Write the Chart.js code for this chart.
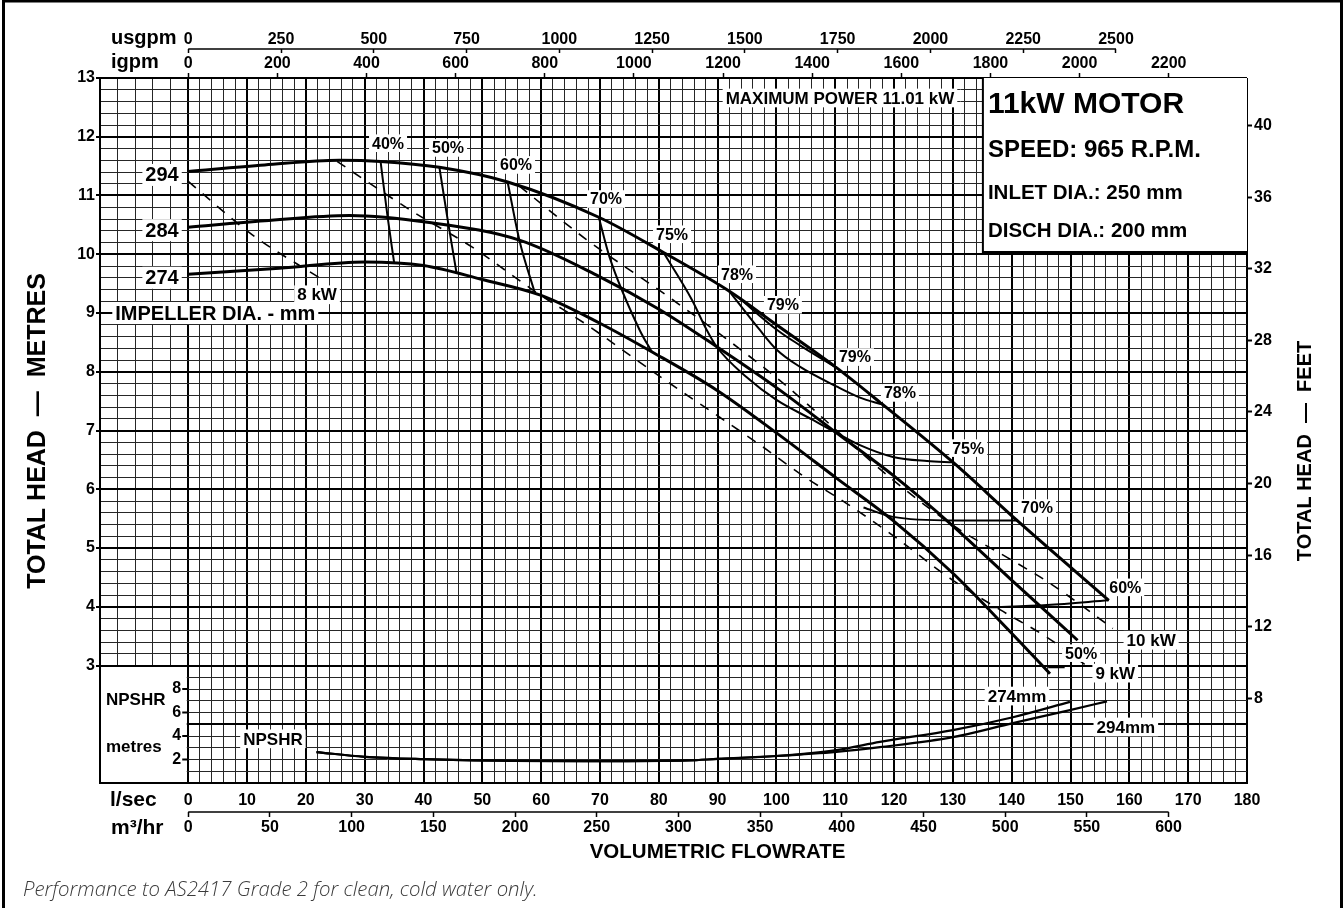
<!DOCTYPE html>
<html>
<head>
<meta charset="utf-8">
<script src="https://cdn.jsdelivr.net/npm/chart.js@4.4.1/dist/chart.umd.min.js"></script>
<style>
  html, body { margin: 0; padding: 0; background: #fff; }
  #wrap { position: relative; width: 1343px; height: 908px; }
</style>
</head>
<body>
<div id="wrap"><canvas id="pumpChart"></canvas></div>
<script>
// flow in l/sec, head in metres
const q294 = [0, 13, 25.7, 32.7, 42.7, 54.3, 69.8, 80.8, 92.0, 100.0, 110.2, 118.1, 130.0, 140.9, 156.5];
const h294 = [11.41, 11.52, 11.60, 11.58, 11.48, 11.23, 10.63, 10.03, 9.37, 8.80, 8.07, 7.44, 6.46, 5.47, 4.11];
const q284 = [0, 13, 27.4, 41, 56.3, 69.9, 80.1, 89.8, 100, 110.2, 119.8, 129.5, 139.7, 151.2];
const h284 = [10.46, 10.57, 10.66, 10.54, 10.24, 9.62, 9.06, 8.43, 7.73, 6.96, 6.24, 5.42, 4.48, 3.43];
const q274 = [0, 15.5, 30, 40, 50, 60, 69.9, 78.8, 89.8, 100, 110.2, 119.8, 130, 139.7, 146.5];
const h274 = [9.66, 9.76, 9.87, 9.81, 9.57, 9.30, 8.83, 8.34, 7.69, 6.96, 6.19, 5.47, 4.57, 3.58, 2.86];

// efficiency contours
const qE40 = [32.7, 33.9, 35.0];            const hE40 = [11.58, 10.63, 9.86];
const qE50 = [42.7, 44.2, 45.6];            const hE50 = [11.48, 10.53, 9.69];
const qE50b = [146.2, 149.0];               const hE50b = [2.97, 2.97];
const qE60 = [54.3, 56.3, 58.9];            const hE60 = [11.23, 10.24, 9.35];
const qE60b = [136.0, 146.0, 156.5];        const hE60b = [3.99, 4.03, 4.11];
const qE70 = [69.8, 71.6, 76.7, 78.8];      const hE70 = [10.63, 9.96, 8.72, 8.34];
const qE70b = [114.8, 119.8, 130.0, 140.9]; const hE70b = [5.69, 5.53, 5.47, 5.47];
const qE75 = [80.8, 85.6, 88.1, 89.8, 94.9, 100, 106.2, 110.2, 114.2, 119.8, 125.6, 130];
const hE75 = [10.03, 9.23, 8.72, 8.43, 7.91, 7.52, 7.18, 6.96, 6.75, 6.55, 6.48, 6.46];
const qE78 = [92.0, 97.1, 100, 103.9, 110.2, 114.2, 118.1];
const hE78 = [9.37, 8.72, 8.38, 8.09, 7.75, 7.56, 7.44];
const qE79 = [93.7, 100, 104, 110.2];       const hE79 = [9.25, 8.72, 8.45, 8.07];

// power lines (dashed)
const qP8 = [0, 10.9, 22.3];                const hP8 = [11.24, 10.33, 9.60];
const qP9 = [25.3, 38.1, 48.3, 59.2, 68.2, 76.2, 83.5, 90.3, 97.7, 104.8, 111.9, 119.3, 130, 138, 146, 152.4];
const hP9 = [11.58, 10.73, 10.12, 9.35, 8.77, 8.20, 7.69, 7.23, 6.72, 6.21, 5.76, 5.25, 4.45, 3.95, 3.48, 3.02];
const qP10 = [56.3, 67.7, 82.3, 100, 119.8, 130.7, 139.2, 146.5, 157.2];
const hP10 = [11.16, 10.25, 9.23, 7.9, 6.16, 5.34, 4.84, 4.40, 3.63];

// NPSHR (metres) per impeller
const qN274 = [21.8, 30, 40, 55, 70, 85, 90, 100, 110.2, 117.6, 130, 140.2, 149.9];
const nN274 = [2.63, 2.23, 2.03, 1.89, 1.86, 1.92, 2.05, 2.3, 2.8, 3.5, 4.5, 5.6, 6.9];
const qN294 = [21.8, 30, 40, 55, 70, 85, 90, 100, 110.2, 117.6, 130, 140.2, 149.9, 156.2];
const nN294 = [2.63, 2.23, 2.03, 1.89, 1.86, 1.92, 2.05, 2.3, 2.65, 3.05, 3.9, 5.1, 6.2, 6.95];

// ticks
const stripQ = [-12, -9, -6, -3];
const usgpmTicks = [0, 250, 500, 750, 1000, 1250, 1500, 1750, 2000, 2250, 2500];
const igpmTicks = [0, 200, 400, 600, 800, 1000, 1200, 1400, 1600, 1800, 2000, 2200];
const m3hTicks = [0, 50, 100, 150, 200, 250, 300, 350, 400, 450, 500, 550, 600];
const feetTicks = [8, 12, 16, 20, 24, 28, 32, 36, 40];
const npshTicks = [2, 4, 6, 8];

// labels on the sheet
const effTags = ['40%', '50%', '60%', '70%', '75%', '78%', '79%', '79%', '78%', '75%', '70%', '60%', '50%'];
const effTagQ = [33.97, 44.17, 55.73, 71.03, 82.25, 93.3, 101.1, 113.35, 121.0, 132.6, 144.3, 159.3, 151.8];
const effTagH = [11.89, 11.81, 11.52, 10.94, 10.34, 9.66, 9.14, 8.25, 7.64, 6.70, 5.68, 4.33, 3.21];
const kwTags = ['8 kW', '9 kW', '10 kW'];
const kwTagQ = [21.9, 157.6, 163.7];
const kwTagH = [9.31, 2.87, 3.43];
const impTags = ['294', '284', '274'];
const impTagH = [11.35, 10.41, 9.60];
const npTags = ['274mm', '294mm', 'NPSHR'];
const npTagQ = [140.9, 159.4, 14.4];
const npTagN = [7.4, 4.77, 3.76];

const LPS_TO_USGPM = 15.850, LPS_TO_IGPM = 13.198, LPS_TO_M3H = 3.6, M_TO_FT = 3.28084;
const qMin = -15, qMax = 180, hMin = 1, hMax = 13;

const FONT = '"Liberation Sans", Arial, Helvetica, sans-serif';
const MINOR = '#262626';
const tickFont = { family: FONT, size: 16, weight: 'bold' };
const isWhole = v => Math.abs(v - Math.round(v)) < 1e-6;

Chart.defaults.font.family = FONT;
Chart.defaults.color = '#000';

function line(qs, hs, width, dash, yAxis) {
  return {
    data: qs.map((q, i) => ({ x: q, y: hs[i] })),
    showLine: true,
    borderColor: '#000',
    borderWidth: width,
    borderDash: dash || [],
    pointRadius: 0,
    pointHoverRadius: 0,
    cubicInterpolationMode: 'monotone',
    yAxisID: yAxis || 'y',
    fill: false
  };
}

function tag(ctx, text, x, y, size, align) {
  ctx.font = 'bold ' + size + 'px ' + FONT;
  const w = ctx.measureText(text).width;
  const left = align === 'left' ? x : x - w / 2;
  ctx.fillStyle = '#fff';
  ctx.fillRect(left - 3, y - size * 0.55, w + 6, size * 1.1);
  ctx.fillStyle = '#000';
  ctx.textAlign = 'left';
  ctx.textBaseline = 'middle';
  ctx.fillText(text, left, y + 1);
}

function text(ctx, str, x, y, font, align) {
  ctx.font = font;
  ctx.fillStyle = '#000';
  ctx.textAlign = align || 'left';
  ctx.textBaseline = 'middle';
  ctx.fillText(str, x, y);
}

function vtext(ctx, str, x, y, font) {
  ctx.save();
  ctx.translate(x, y);
  ctx.rotate(-Math.PI / 2);
  text(ctx, str, 0, 0, font, 'center');
  ctx.restore();
}

const sheet = {
  id: 'sheet',
  beforeDatasetsDraw(chart) {
    const { ctx, chartArea: ca, scales: { x, y } } = chart;
    ctx.save();
    ctx.fillStyle = '#fff';
    // NPSHR key box in the left strip
    const bx0 = x.getPixelForValue(qMin), bx1 = x.getPixelForValue(0);
    const by0 = y.getPixelForValue(3), by1 = y.getPixelForValue(hMin);
    ctx.fillRect(bx0 + 1, by0 + 1.5, bx1 - bx0 - 2.5, by1 - by0 - 2.5);
    // motor info box
    const ix = x.getPixelForValue(135.1), iy = y.getPixelForValue(10.04);
    ctx.fillRect(ix, ca.top, ca.right - ix, iy - ca.top);
    ctx.strokeStyle = '#000';
    ctx.lineWidth = 2;
    ctx.beginPath();
    ctx.moveTo(ix, ca.top);
    ctx.lineTo(ix, iy);
    ctx.lineTo(ca.right, iy);
    ctx.stroke();
    ctx.restore();
  },
  afterDatasetsDraw(chart) {
    const { ctx, chartArea: ca, scales: { x, y, yN, xU, xM } } = chart;
    ctx.save();

    // curve tags
    effTags.forEach((t, i) => tag(ctx, t, x.getPixelForValue(effTagQ[i]), y.getPixelForValue(effTagH[i]), 16));
    kwTags.forEach((t, i) => tag(ctx, t, x.getPixelForValue(kwTagQ[i]), y.getPixelForValue(kwTagH[i]), 17));
    impTags.forEach((t, i) => tag(ctx, t, x.getPixelForValue(-4.45), y.getPixelForValue(impTagH[i]), 20));
    npTags.forEach((t, i) => tag(ctx, t, x.getPixelForValue(npTagQ[i]), yN.getPixelForValue(npTagN[i]), 17));
    tag(ctx, 'IMPELLER DIA. - mm', x.getPixelForValue(-12.4), y.getPixelForValue(9.0), 20, 'left');
    tag(ctx, 'MAXIMUM POWER 11.01 kW', x.getPixelForValue(110.8), y.getPixelForValue(12.66), 17);

    // motor info text
    const ix = x.getPixelForValue(135.1) + 5;
    text(ctx, '11kW MOTOR', ix, ca.top + 27, 'bold 30px ' + FONT);
    text(ctx, 'SPEED: 965 R.P.M.', ix, ca.top + 72, 'bold 24px ' + FONT);
    text(ctx, 'INLET DIA.: 250 mm', ix, ca.top + 115, 'bold 20.5px ' + FONT);
    text(ctx, 'DISCH DIA.: 200 mm', ix, ca.top + 153, 'bold 20.5px ' + FONT);

    // NPSHR key: ticks and labels
    const x0 = x.getPixelForValue(0);
    ctx.strokeStyle = '#000';
    ctx.lineWidth = 2;
    npshTicks.forEach(v => {
      const py = yN.getPixelForValue(v);
      ctx.beginPath(); ctx.moveTo(x0 - 6, py); ctx.lineTo(x0, py); ctx.stroke();
      text(ctx, String(v), x0 - 7, py, 'bold 16px ' + FONT, 'right');
    });
    text(ctx, 'NPSHR', ca.left + 6, yN.getPixelForValue(7), 'bold 17px ' + FONT);
    text(ctx, 'metres', ca.left + 6, yN.getPixelForValue(3), 'bold 17px ' + FONT);

    // secondary axis lines
    ctx.lineWidth = 1.5;
    const uy = xU.bottom - 4;
    ctx.beginPath(); ctx.moveTo(xU.getPixelForValue(0), uy); ctx.lineTo(xU.getPixelForValue(2500), uy); ctx.stroke();
    const my = xM.top;
    ctx.beginPath(); ctx.moveTo(xM.getPixelForValue(0), my); ctx.lineTo(xM.getPixelForValue(600), my); ctx.stroke();

    // axis names
    text(ctx, 'usgpm', 111, 38, 'bold 20px ' + FONT);
    text(ctx, 'igpm', 111, 62, 'bold 20px ' + FONT);
    text(ctx, 'l/sec', 110, 800, 'bold 21px ' + FONT);
    text(ctx, 'm\u00b3/hr', 111, 828, 'bold 21px ' + FONT);
    text(ctx, 'VOLUMETRIC FLOWRATE', (x0 + ca.right) / 2, 852, 'bold 20.5px ' + FONT, 'center');
    vtext(ctx, 'TOTAL HEAD  \u2014  METRES', 38, 431, 'bold 25px ' + FONT);
    vtext(ctx, 'TOTAL HEAD  \u2014  FEET', 1305, 451, 'bold 20px ' + FONT);

    // footer note
    const note = 'Performance to AS2417 Grade 2 for clean, cold water only.';
    ctx.font = 'italic 300 17px "Open Sans", "Liberation Sans", sans-serif';
    const size = 17 * 515 / ctx.measureText(note).width;
    ctx.font = 'italic 300 ' + size.toFixed(2) + 'px "Open Sans", "Liberation Sans", sans-serif';
    ctx.fillStyle = '#3a3a3a';
    ctx.textAlign = 'left';
    ctx.textBaseline = 'middle';
    ctx.fillText(note, 23, 890);

    // outer frame
    ctx.strokeStyle = '#000';
    ctx.lineWidth = 3;
    ctx.beginPath();
    ctx.moveTo(3.5, 920); ctx.lineTo(3.5, 1); ctx.lineTo(1341.5, 1); ctx.lineTo(1341.5, 920);
    ctx.stroke();
    ctx.restore();
  }
};

const datasets = [
  line(q294, h294, 3), line(q284, h284, 3), line(q274, h274, 3),
  line(qE40, hE40, 2), line(qE50, hE50, 2), line(qE50b, hE50b, 2),
  line(qE60, hE60, 2), line(qE60b, hE60b, 2),
  line(qE70, hE70, 2), line(qE70b, hE70b, 2),
  line(qE75, hE75, 2), line(qE78, hE78, 2), line(qE79, hE79, 2),
  line(qP8, hP8, 1.6, [10, 9]), line(qP9, hP9, 1.6, [10, 9]), line(qP10, hP10, 1.6, [10, 9]),
  line(qN274, nN274, 2.2, null, 'yN'), line(qN294, nN294, 2.2, null, 'yN')
];

// secondary flow axes share the l/sec pixel range through a unit factor
function flowAxis(position, weight, factor, tickList, len, pad, size) {
  return {
    type: 'linear', position: position, weight: weight,
    min: qMin * factor, max: qMax * factor,
    ticks: { autoSkip: false, maxRotation: 0, minRotation: 0, padding: pad, color: '#000', font: tickFont,
      callback: v => String(v) },
    afterBuildTicks: s => { s.ticks = tickList.map(v => ({ value: v })); },
    grid: { drawOnChartArea: false, drawTicks: true, tickLength: len, tickColor: '#000', tickWidth: 1.5 },
    border: { display: false },
    afterFit: s => { s.height = size; }
  };
}

new Chart(document.getElementById('pumpChart'), {
  type: 'scatter',
  data: { datasets: datasets },
  options: {
    responsive: true,
    maintainAspectRatio: false,
    animation: false,
    devicePixelRatio: 1,
    layout: { padding: 0 },
    plugins: { legend: { display: false }, tooltip: { enabled: false } },
    scales: {
      x: {
        type: 'linear', position: 'bottom', weight: 0,
        min: qMin, max: qMax,
        ticks: {
          stepSize: 2, autoSkip: false, maxRotation: 0, minRotation: 0, padding: 8, color: '#000', font: tickFont,
          callback: v => (v >= 0 && v % 10 === 0) ? String(v) : ''
        },
        afterBuildTicks: s => { s.ticks = stripQ.map(v => ({ value: v })).concat(s.ticks.filter(t => t.value >= 0)); },
        grid: {
          drawTicks: false,
          color: c => (c.tick && c.tick.value % 10 === 0) ? '#000' : MINOR,
          lineWidth: c => (c.tick && c.tick.value % 10 === 0) ? 2 : 1
        },
        border: { display: true, color: '#000', width: 2 },
        afterFit: s => { s.height = 29; }
      },
      xM: flowAxis('bottom', 1, LPS_TO_M3H, m3hTicks, 5, 1, 96),
      xI: flowAxis('top', 0, LPS_TO_IGPM, igpmTicks, 5, 0, 25),
      xU: flowAxis('top', 1, LPS_TO_USGPM, usgpmTicks, 4, 0, 53),
      y: {
        type: 'linear', position: 'left', min: hMin, max: hMax,
        ticks: {
          stepSize: 0.2, autoSkip: false, padding: 1, color: '#000', font: tickFont,
          callback: v => (isWhole(v) && v >= 3) ? String(Math.round(v)) : ''
        },
        grid: {
          drawTicks: true, tickLength: 4, tickWidth: 2,
          tickColor: c => (c.tick && isWhole(c.tick.value) && c.tick.value >= 3) ? '#000' : 'rgba(0,0,0,0)',
          color: c => (c.tick && isWhole(c.tick.value)) ? '#000' : MINOR,
          lineWidth: c => (c.tick && isWhole(c.tick.value)) ? 2 : 1
        },
        border: { display: true, color: '#000', width: 2 },
        afterFit: s => { s.width = 100; }
      },
      yF: {
        type: 'linear', position: 'right', min: hMin * M_TO_FT, max: hMax * M_TO_FT,
        afterBuildTicks: s => { s.ticks = feetTicks.map(v => ({ value: v })); },
        ticks: { autoSkip: false, padding: 2, color: '#000', font: tickFont },
        grid: { drawOnChartArea: false, drawTicks: true, tickLength: 5, tickColor: '#000', tickWidth: 2 },
        border: { display: false },
        afterFit: s => { s.width = 96; }
      },
      yN: { type: 'linear', display: false, position: 'right', min: 0, max: 60 }
    }
  },
  plugins: [sheet]
});
</script>
</body>
</html>
